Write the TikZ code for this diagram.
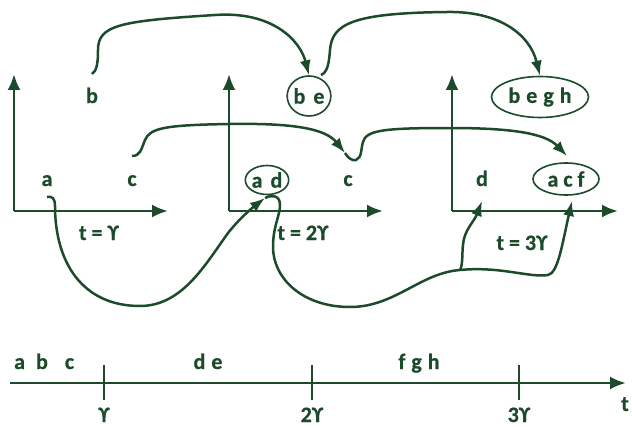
\documentclass[tikz,border=0pt]{standalone}
\usepackage{fontspec}
\setmainfont{Carlito}[BoldFeatures={FakeBold=0.6}]
\usetikzlibrary{arrows.meta,shapes.geometric}
\definecolor{dg}{HTML}{1C4B2C}
\newcommand{\ups}{ϒ}
\begin{document}
\begin{tikzpicture}[x=1pt,y=-1pt,
  every node/.style={font=\fontsize{22}{26}\selectfont\bfseries, text=dg, inner sep=0pt},
  oval/.style={ellipse, draw=dg, line width=1.6pt},
  axisline/.style={draw=dg, line width=2.8pt, -{Latex[length=16pt,width=13pt]}},
  flow/.style={draw=dg, line width=2.5pt, -{Latex[length=15pt,width=11pt]}},
  plainflow/.style={draw=dg, line width=2.5pt},
  tickline/.style={draw=dg, line width=2.6pt}]
\useasboundingbox (0,0) rectangle (632,428);

% axes of the three panels
\coordinate (o1) at (14,211);
\coordinate (o2) at (229,211);
\coordinate (o3) at (452,211);
\draw[axisline] (o1) -- ++(0,-137);
\draw[axisline] (o1) -- ++(154,0);
\draw[axisline] (o2) -- ++(0,-137);
\draw[axisline] (o2) -- ++(154,0);
\draw[axisline] (o3) -- ++(0,-137);
\draw[axisline] (o3) -- ++(166,0);

% panel 1
\node[anchor=base] (b1) at (92,103) {b};
\node[anchor=base] (a1) at (47,186) {a};
\node[anchor=base] (c1) at (132,186) {c};
\node[anchor=base] (t1) at (99,240) {t = \ups};

% panel 2
\node[oval, minimum width=42pt, minimum height=40pt] (be) at (309,96) {b\hskip8pt e};
\node[oval, minimum width=42pt, minimum height=29pt] (ad) at (267,180) {a\hskip8pt d};
\node[anchor=base] (c2) at (348,186) {c};
\node[anchor=base] (t2) at (303,240) {t = 2\ups};

% panel 3
\node[oval, minimum width=97pt, minimum height=41pt] (begh) at (540,97) {b\hskip6pt e\hskip6pt g\hskip6pt h};
\node[oval, minimum width=66pt, minimum height=32pt] (acf) at (566,179) {a\hskip5pt c\hskip5pt f};
\node[anchor=base] (d3) at (482,186) {d};
\node[anchor=base] (t3) at (522,250) {t = 3\ups};

% connector end points
\coordinate (bs) at (92,74);
\coordinate (bes) at (321,75);
\coordinate (cs) at (132,156);
\coordinate (c2in) at (345,153);
\coordinate (acfin) at (567,156);
\coordinate (as) at (47,197);
\coordinate (adin) at (265,198);
\coordinate (split) at (460,270);
\coordinate (din) at (482,201);
\coordinate (acfin2) at (572,201);

% b -> be
\draw[flow] (bs) .. controls (97,71) and (98,62) .. (98,50)
  .. controls (98,25) and (120,21) .. (215,15)
  .. controls (272,11) and (300,40) .. (be.north);
% be -> begh
\draw[flow] (bes) .. controls (328,72) and (329,62) .. (330,50)
  .. controls (332,24) and (352,13) .. (447,12)
  .. controls (500,11) and (530,35) .. (begh.north);
% c -> c
\draw[flow] (cs) .. controls (140,156) and (141,150) .. (145,140)
  .. controls (150,128) and (165,125) .. (230,124)
  .. controls (290,123) and (325,128) .. (c2in);
% c -> acf
\draw[flow] (c2in) .. controls (348,158) and (352,161) .. (356,160)
  .. controls (362,158) and (361,148) .. (363,142)
  .. controls (366,130) and (385,128) .. (450,128)
  .. controls (510,128) and (545,133) .. (acfin);
% a -> ad
\draw[flow] (as) .. controls (52,196) and (55,198) .. (55,206)
  .. controls (55,262) and (82,306) .. (140,306)
  .. controls (182,306) and (205,265) .. (228,233)
  .. controls (240,218) and (252,208) .. (adin);
% ad -> split
\draw[plainflow] (adin) .. controls (270,195) and (280,194) .. (280,205)
  .. controls (280,216) and (273,226) .. (273,247)
  .. controls (273,278) and (302,307) .. (350,307)
  .. controls (395,307) and (420,273) .. (split);
% split -> d
\draw[flow] (split) .. controls (463,265) and (462,252) .. (463,245)
  .. controls (464,230) and (474,222) .. (din);
% split -> acf
\draw[flow] (split) .. controls (500,266) and (530,278) .. (548,275)
  .. controls (558,273) and (562,245) .. (acfin2);

% time line
\coordinate (l0) at (10,383);
\draw[axisline] (l0) -- (626,383);
\coordinate (k1) at (104,383);
\coordinate (k2) at (312,383);
\coordinate (k3) at (519,383);
\draw[tickline] (k1) ++(0,-18) -- ++(0,35);
\draw[tickline] (k2) ++(0,-18) -- ++(0,35);
\draw[tickline] (k3) ++(0,-18) -- ++(0,35);
\node[anchor=base west] (abc) at (14,369) {a\hskip11pt b\hskip17pt c};
\node[anchor=base] (de) at (208,369) {d\hskip6pt e};
\node[anchor=base] (fgh) at (419,369) {f\hskip6pt g\hskip6pt h};
\node[anchor=base] (u1) at (104,422) {\ups};
\node[anchor=base] (u2) at (312,422) {2\ups};
\node[anchor=base] (u3) at (519,422) {3\ups};
\node[anchor=base] (tl) at (625,411) {t};
\end{tikzpicture}
\end{document}
